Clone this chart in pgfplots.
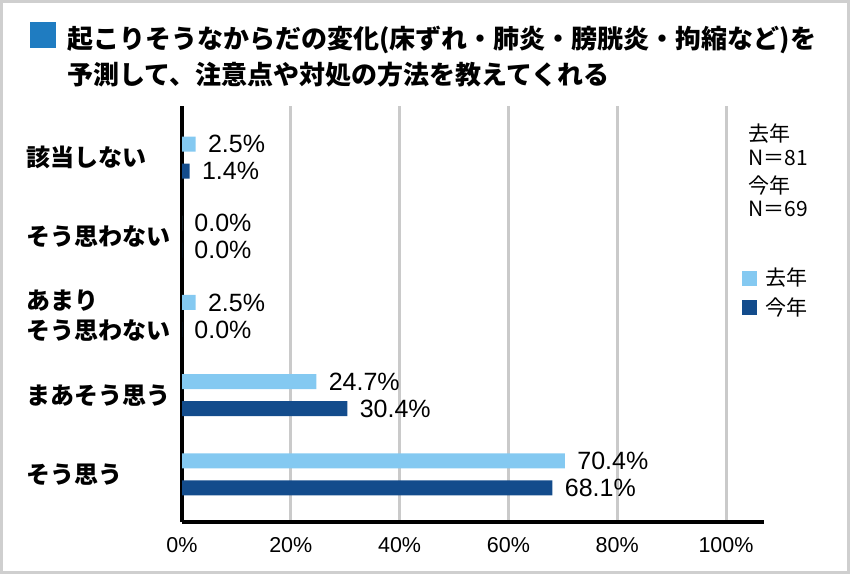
\documentclass[border=0pt]{standalone}
\usepackage{fontspec}
\setmainfont{Liberation Sans}
\newfontfamily\cjk{Noto Sans CJK JP}
\usepackage{pgfplots}
\pgfplotsset{compat=1.18}

\definecolor{lastyear}{HTML}{84C9F1}
\definecolor{thisyear}{HTML}{134C8C}
\definecolor{framegray}{HTML}{CFCFCF}
\definecolor{gridgray}{HTML}{CACACA}
\definecolor{titleblue}{HTML}{1F7CC1}

\begin{document}
\begin{tikzpicture}
\useasboundingbox (0,0) rectangle (425pt,287pt);
% outer frame
\draw[framegray, line width=1.5pt] (0.75pt,0.75pt) rectangle (424.25pt,286.25pt);
% title with its marker square
\fill[titleblue] (15pt,263pt) rectangle (28pt,276pt);
\node[anchor=west, inner sep=0pt, font=\cjk\bfseries\fontsize{13}{16}\selectfont]
  at (33.5pt,267pt) {起こりそうなからだの変化(床ずれ・肺炎・膀胱炎・拘縮など)を};
\node[anchor=west, inner sep=0pt, font=\cjk\bfseries\fontsize{13}{16}\selectfont]
  at (33.5pt,249.5pt) {予測して、注意点や対処の方法を教えてくれる};
% sample sizes
\begin{scope}[every node/.style={anchor=west, inner sep=0pt, font=\cjk\fontsize{10.5}{12}\selectfont}]
  \node at (374pt,220pt) {去年};
  \node at (374pt,208.25pt) {N＝81};
  \node at (374pt,194pt) {今年};
  \node at (374pt,182.5pt) {N＝69};
\end{scope}

\begin{axis}[
  at={(91pt,26pt)}, anchor=south west,
  width=291.04pt, height=208pt, scale only axis,
  xmin=0, xmax=107, ymin=-0.6, ymax=4.65,
  xbar, bar width=7.5pt,
  axis x line*=bottom, axis y line*=left,
  axis line style={black, line width=2pt},
  xtick={0,20,40,60,80,100},
  xticklabels={0\%,20\%,40\%,60\%,80\%,100\%},
  ytick={0,1,2,3,4},
  yticklabels={そう思う, まあそう思う, {あまり\\そう思わない}, そう思わない, 該当しない},
  major tick length=0pt, tick style={draw=none},
  xmajorgrids, grid style={gridgray, line width=1.5pt},
  xticklabel style={font=\fontsize{10.75}{12}\selectfont, anchor=center, yshift=-11.5pt},
  yticklabel style={font=\cjk\bfseries\fontsize{12}{15}\selectfont, text width=75.5pt,
    align=left, anchor=east, inner sep=0pt, xshift=-2pt},
  point meta=x,
  /pgf/number format/assume math mode=true,
  nodes near coords={\pgfmathprintnumber[fixed, fixed zerofill, precision=1]{\pgfplotspointmeta}\%},
  nodes near coords style={font=\fontsize{12.5}{14}\selectfont, anchor=west, inner sep=0pt, xshift=6pt},
  legend style={at={(axis description cs:0.962,0.612)}, anchor=north west,
    draw=none, fill=none, inner sep=0pt, row sep=4.5pt,
    font=\cjk\fontsize{10.5}{12}\selectfont,
    nodes={inner sep=0pt}, column sep=4pt},
  legend cell align=left,
  legend image code/.code={\fill[#1] (0pt,-3.75pt) rectangle (7.5pt,3.75pt);},
]
\addplot[fill=lastyear, draw=none, bar shift=6.75pt]
  coordinates {(70.4,0) (24.7,1) (2.5,2) (0.0,3) (2.5,4)};
\addlegendentry{去年}
\addplot[fill=thisyear, draw=none, bar shift=-6.75pt]
  coordinates {(68.1,0) (30.4,1) (0.0,2) (0.0,3) (1.4,4)};
\addlegendentry{今年}
\end{axis}
\end{tikzpicture}
\end{document}
